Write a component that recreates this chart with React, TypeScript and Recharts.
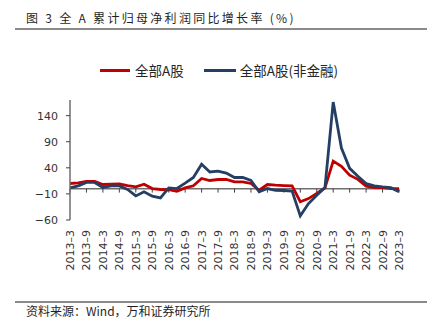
import { LineChart, Line, XAxis, YAxis, ReferenceLine } from 'recharts'

const quarters = [
  '2013-3', '2013-6', '2013-9', '2013-12',
  '2014-3', '2014-6', '2014-9', '2014-12',
  '2015-3', '2015-6', '2015-9', '2015-12',
  '2016-3', '2016-6', '2016-9', '2016-12',
  '2017-3', '2017-6', '2017-9', '2017-12',
  '2018-3', '2018-6', '2018-9', '2018-12',
  '2019-3', '2019-6', '2019-9', '2019-12',
  '2020-3', '2020-6', '2020-9', '2020-12',
  '2021-3', '2021-6', '2021-9', '2021-12',
  '2022-3', '2022-6', '2022-9', '2022-12',
  '2023-3',
]

// 全部A股
const allA = [
  10, 11, 14, 14,
  8, 8.6, 9, 6,
  3.5, 8.7, 0.3, -1.5,
  -2, -5, 1.6, 5.5,
  19.6, 15.7, 17.6, 17.6,
  13, 13, 10, -3,
  8, 6.7, 6, 5.4,
  -25, -19, -9, 1.6,
  53, 43, 26, 18,
  4.8, 2.3, 2, 0.3,
  0.3,
]

// 全部A股(非金融)
const nonFin = [
  1.6, 5.4, 12, 12,
  2.3, 5.4, 5.4, -1.5,
  -13.8, -6, -14.4, -17.6,
  1.6, 0.3, 10.6, 21.5,
  47, 32, 33.6, 30,
  21.5, 21.5, 16, -6,
  0.3, -3, -3.5, -4.5,
  -52, -28.5, -12.5, 2.3,
  166, 78, 39, 24,
  10, 5.4, 3.5, 2,
  -6,
]

const yTicks = [-60, -10, 40, 90, 140]

const RED = '#C00000'
const NAVY = '#243F63'
const AXIS = '#6f6f6f'
const TEXT = '#333333'
const NUM_FONT = '"DejaVu Sans", sans-serif'
const CJK_FONT = '"Noto Sans CJK SC", sans-serif'

const data = quarters.map((q, i) => ({ q, allA: allA[i], nonFin: nonFin[i] }))
const labelled = quarters.filter((_, i) => i % 2 === 0)

function XTick({ x, y, payload }: { x?: number; y?: number; payload?: { value: string } }) {
  return (
    <g transform={`translate(${x},${y})`}>
      <text
        transform="rotate(-90)"
        textAnchor="end"
        dy="0.36em"
        fontSize={11}
        fontFamily={NUM_FONT}
        fill={TEXT}
      >
        {String(payload?.value ?? '').replace('-', '–')}
      </text>
    </g>
  )
}

export default function App() {
  return (
    <div
      style={{
        position: 'relative',
        width: 443,
        height: 330,
        background: '#fff',
        overflow: 'hidden',
        fontFamily: CJK_FONT,
      }}
    >
      <style>{'body{margin:0}'}</style>
      <div
        style={{
          position: 'absolute',
          left: 26,
          top: 9,
          fontSize: 12,
          letterSpacing: 2.3,
          color: '#1f1f1f',
          whiteSpace: 'nowrap',
          lineHeight: '18px',
        }}
      >
        图 3 全 A 累计归母净利润同比增长率 (%)
      </div>
      <div style={{ position: 'absolute', left: 15, top: 28, width: 412, height: 2, background: '#8a8a8a' }} />

      <div
        style={{
          position: 'absolute',
          left: 100,
          top: 61,
          height: 18,
          display: 'flex',
          alignItems: 'center',
          fontSize: 13.5,
          color: '#262626',
          whiteSpace: 'nowrap',
        }}
      >
        <span style={{ width: 30, height: 3, background: RED, marginRight: 5 }} />
        <span>全部A股</span>
        <span style={{ width: 32, height: 3, background: NAVY, marginLeft: 20, marginRight: 4 }} />
        <span>全部A股(非金融)</span>
      </div>

      <div style={{ position: 'absolute', left: 0, top: 0 }}>
        <LineChart width={443} height={330} data={data} margin={{ top: 100, right: 44, bottom: 60, left: 30 }}>
          <XAxis
            dataKey="q"
            interval={1}
            axisLine={false}
            tickLine={false}
            tickMargin={4}
            height={50}
            tick={<XTick />}
          />
          <YAxis
            width={40}
            domain={[-60, 170]}
            ticks={yTicks}
            interval={0}
            axisLine={{ stroke: AXIS, strokeWidth: 1.5 }}
            tickLine={{ stroke: '#404040' }}
            tickSize={4}
            tickMargin={8}
            tick={{ fontSize: 11, fontFamily: NUM_FONT, fill: TEXT }}
            tickFormatter={(v: number) => (v < 0 ? `−${Math.abs(v)}` : String(v))}
          />
          <ReferenceLine y={0} stroke={AXIS} strokeWidth={1.5} />
          {labelled.map((q) => (
            <ReferenceLine
              key={q}
              segment={[
                { x: q, y: 0 },
                { x: q, y: -7.5 },
              ]}
              stroke="#404040"
              strokeWidth={1}
              ifOverflow="visible"
            />
          ))}
          <Line
            type="linear"
            dataKey="allA"
            name="全部A股"
            stroke={RED}
            strokeWidth={2.8}
            dot={false}
            isAnimationActive={false}
          />
          <Line
            type="linear"
            dataKey="nonFin"
            name="全部A股(非金融)"
            stroke={NAVY}
            strokeWidth={2.8}
            dot={false}
            isAnimationActive={false}
          />
        </LineChart>
      </div>

      <div style={{ position: 'absolute', left: 15, top: 301, width: 412, height: 1.5, background: '#8a8a8a' }} />
      <div
        style={{
          position: 'absolute',
          left: 26,
          top: 303,
          fontSize: 12,
          color: '#1f1f1f',
          whiteSpace: 'nowrap',
          lineHeight: '16px',
        }}
      >
        资料来源：Wind，万和证券研究所
      </div>
    </div>
  )
}
